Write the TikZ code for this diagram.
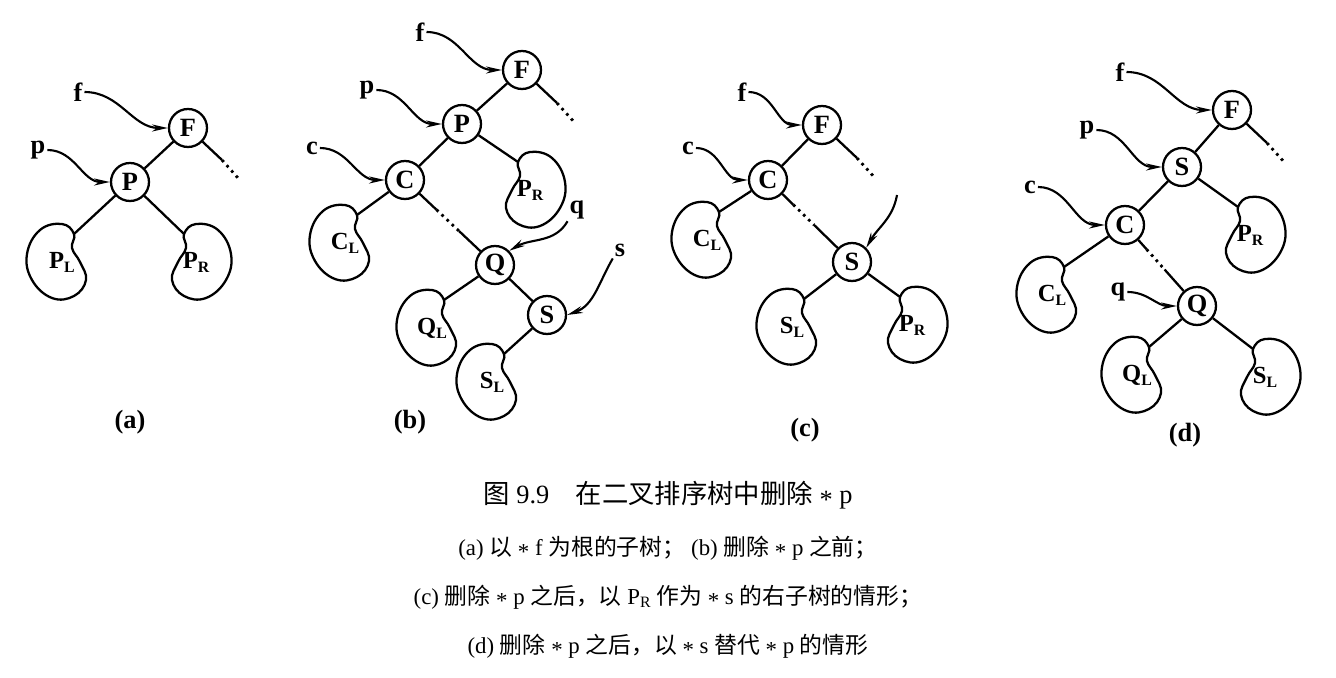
\documentclass[tikz,border=0pt]{standalone}
\usepackage{fontspec}
\setmainfont{Liberation Serif}
\newfontfamily\cjk{Noto Sans CJK SC}
\usetikzlibrary{calc,arrows.meta}
\tikzset{
  nd/.style={circle,draw,line width=1.3pt,minimum size=0.76cm,inner sep=0pt,font=\bfseries\fontsize{15}{15}\selectfont},
  ed/.style={line width=1.3pt},
  dt/.style={line width=1.6pt,dash pattern=on 1.5pt off 2.5pt},
  ptr/.style={line width=1.2pt,-{Stealth[length=9pt,width=4pt]}},
  lb/.style={font=\bfseries\fontsize{15}{15}\selectfont,inner sep=1pt},
  bt/.style={font=\bfseries\fontsize{14}{14}\selectfont,inner sep=0pt},
  captxt/.style={font=\fontsize{13}{13}\selectfont},
}
\newcommand\blobat[5]{%
  \begin{scope}[shift={(#2,#3)},xscale=#4]
    \draw[ed] plot[smooth cycle,tension=0.7] coordinates{(12,-28) (0,-38) (-22,-32) (-35,-8) (-30,18) (-10,36) (12,34) (24,18) (18,0) (10,-14)};
    \coordinate (#1-top) at (12,-28);
  \end{scope}
  \node[bt] (#1) at (#2,#3) {#5};}
\newcommand\sub[2]{#1\raisebox{-0.35ex}{\fontsize{9}{9}\selectfont #2}}
\newcommand\st{\raisebox{-0.4ex}{*}}
\begin{document}
\begin{tikzpicture}[x=0.02cm,y=-0.02cm]
\useasboundingbox (0,0) rectangle (1336,678);
\fill[white] (0,0) rectangle (1336,678);
% (a)
\node[nd] (aF) at (188,128) {F};
\node[nd] (aP) at (130,182) {P};
\blobat{aPL}{62}{262}{1}{\sub{P}{L}}
\blobat{aPR}{196}{262}{-1}{\sub{P}{R}}
\draw[ed] (aF) -- (aP); \draw[ed] (aP) -- (aPL-top); \draw[ed] (aP) -- (aPR-top);
\coordinate (aD1) at (222,160); \coordinate (aD2) at (238,178);
\draw[ed] (aF) -- (aD1); \draw[dt] (aD1) -- (aD2);
\node[lb] (af) at (78,92) {f}; \node[lb] (ap) at (38,150) {p};
\draw[ptr] (af.east) to[out=0,in=180] (aF.west);
\draw[ptr] (ap.east) to[out=0,in=180] (aP.west);
\node[lb] (acap) at (130,422) {(a)};
% (b)
\node[nd] (bF) at (522,70) {F};
\node[nd] (bP) at (462,124) {P};
\node[nd] (bC) at (405,180) {C};
\node[nd] (bQ) at (495,265) {Q};
\node[nd] (bS) at (547,315) {S};
\blobat{bPR}{530}{190}{-1}{\sub{P}{R}}
\blobat{bCL}{345}{243}{1}{\sub{C}{L}}
\blobat{bQL}{432}{328}{1}{\sub{Q}{L}}
\blobat{bSL}{492}{382}{1}{\sub{S}{L}}
\draw[ed] (bF) -- (bP); \draw[ed] (bP) -- (bC); \draw[ed] (bP) -- (bPR-top);
\draw[ed] (bC) -- (bCL-top); \draw[ed] (bQ) -- (bQL-top); \draw[ed] (bQ) -- (bS); \draw[ed] (bS) -- (bSL-top);
\coordinate (bD1) at (557,103); \coordinate (bD2) at (575,123);
\draw[ed] (bF) -- (bD1); \draw[dt] (bD1) -- (bD2);
\coordinate (bc1) at ($(bC)!0.35!(bQ)$); \coordinate (bc2) at ($(bC)!0.6!(bQ)$);
\draw[ed] (bC) -- (bc1); \draw[dt] (bc1) -- (bc2); \draw[ed] (bc2) -- (bQ);
\node[lb] (bf) at (420,32) {f}; \node[lb] (bp) at (367,90) {p}; \node[lb] (bc) at (312,148) {c};
\node[lb] (bq) at (577,210) {q}; \node[lb] (bs) at (620,250) {s};
\draw[ptr] (bf.east) to[out=0,in=180] (bF.west);
\draw[ptr] (bp.east) to[out=0,in=180] (bP.west);
\draw[ptr] (bc.east) to[out=0,in=180] (bC.west);
\draw[ptr] (bq.south west) to[out=-120,in=30] (bQ.north east);
\draw[ptr] (bs.south west) to[out=-120,in=20] (bS.east);
\node[lb] (bcap) at (410,422) {(b)};
% (c)
\node[nd] (cF) at (822,125) {F};
\node[nd] (cC) at (768,180) {C};
\node[nd] (cS) at (852,262) {S};
\blobat{cCL}{707}{240}{1}{\sub{C}{L}}
\blobat{cSL}{792}{327}{1}{\sub{S}{L}}
\blobat{cPR}{912}{325}{-1}{\sub{P}{R}}
\draw[ed] (cF) -- (cC); \draw[ed] (cC) -- (cCL-top); \draw[ed] (cS) -- (cSL-top); \draw[ed] (cS) -- (cPR-top);
\coordinate (cD1) at (857,158); \coordinate (cD2) at (875,178);
\draw[ed] (cF) -- (cD1); \draw[dt] (cD1) -- (cD2);
\coordinate (cc1) at ($(cC)!0.3!(cS)$); \coordinate (cc2) at ($(cC)!0.55!(cS)$);
\draw[ed] (cC) -- (cc1); \draw[dt] (cc1) -- (cc2); \draw[ed] (cc2) -- (cS);
\node[lb] (cf) at (742,92) {f}; \node[lb] (cc) at (688,148) {c};
\coordinate (cs) at (897,195);
\draw[ptr] (cf.east) to[out=0,in=180] (cF.west);
\draw[ptr] (cc.east) to[out=0,in=180] (cC.west);
\draw[ptr] (cs) to[out=-100,in=60] (cS.north east);
\node[lb] (ccap) at (805,430) {(c)};
% (d)
\node[nd] (dF) at (1232,110) {F};
\node[nd] (dS) at (1182,167) {S};
\node[nd] (dC) at (1125,225) {C};
\node[nd] (dQ) at (1197,306) {Q};
\blobat{dPR}{1250}{235}{-1}{\sub{P}{R}}
\blobat{dCL}{1052}{295}{1}{\sub{C}{L}}
\blobat{dQL}{1137}{375}{1}{\sub{Q}{L}}
\blobat{dSL}{1265}{377}{-1}{\sub{S}{L}}
\draw[ed] (dF) -- (dS); \draw[ed] (dS) -- (dC); \draw[ed] (dS) -- (dPR-top);
\draw[ed] (dC) -- (dCL-top); \draw[ed] (dQ) -- (dQL-top); \draw[ed] (dQ) -- (dSL-top);
\coordinate (dD1) at (1267,143); \coordinate (dD2) at (1285,163);
\draw[ed] (dF) -- (dD1); \draw[dt] (dD1) -- (dD2);
\coordinate (dc1) at ($(dC)!0.3!(dQ)$); \coordinate (dc2) at ($(dC)!0.55!(dQ)$);
\draw[ed] (dC) -- (dc1); \draw[dt] (dc1) -- (dc2); \draw[ed] (dc2) -- (dQ);
\node[lb] (df) at (1120,72) {f}; \node[lb] (dp) at (1087,130) {p}; \node[lb] (dc) at (1030,187) {c};
\node[lb] (dq) at (1118,292) {q};
\draw[ptr] (df.east) to[out=0,in=180] (dF.west);
\draw[ptr] (dp.east) to[out=0,in=180] (dS.west);
\draw[ptr] (dc.east) to[out=0,in=180] (dC.west);
\draw[ptr] (dq.east) to[out=0,in=180] (dQ.west);
\node[lb] (dcap) at (1185,435) {(d)};
% captions
\node[captxt,font=\fontsize{15}{15}\selectfont] (t1) at (668,495) {{\cjk 图}\ 9.9\quad {\cjk 在二叉排序树中删除} \st\ p};
\node[captxt] (t2) at (668,548) {(a) {\cjk 以} \st\ f {\cjk 为根的子树；}\ (b) {\cjk 删除} \st\ p {\cjk 之前；}};
\node[captxt] (t3) at (668,597) {(c) {\cjk 删除} \st\ p {\cjk 之后，以} P\raisebox{-0.3ex}{\fontsize{9}{9}\selectfont R} {\cjk 作为} \st\ s {\cjk 的右子树的情形；}};
\node[captxt] (t4) at (668,646) {(d) {\cjk 删除} \st\ p {\cjk 之后，以} \st\ s {\cjk 替代} \st\ p {\cjk 的情形}};
\end{tikzpicture}
\end{document}
